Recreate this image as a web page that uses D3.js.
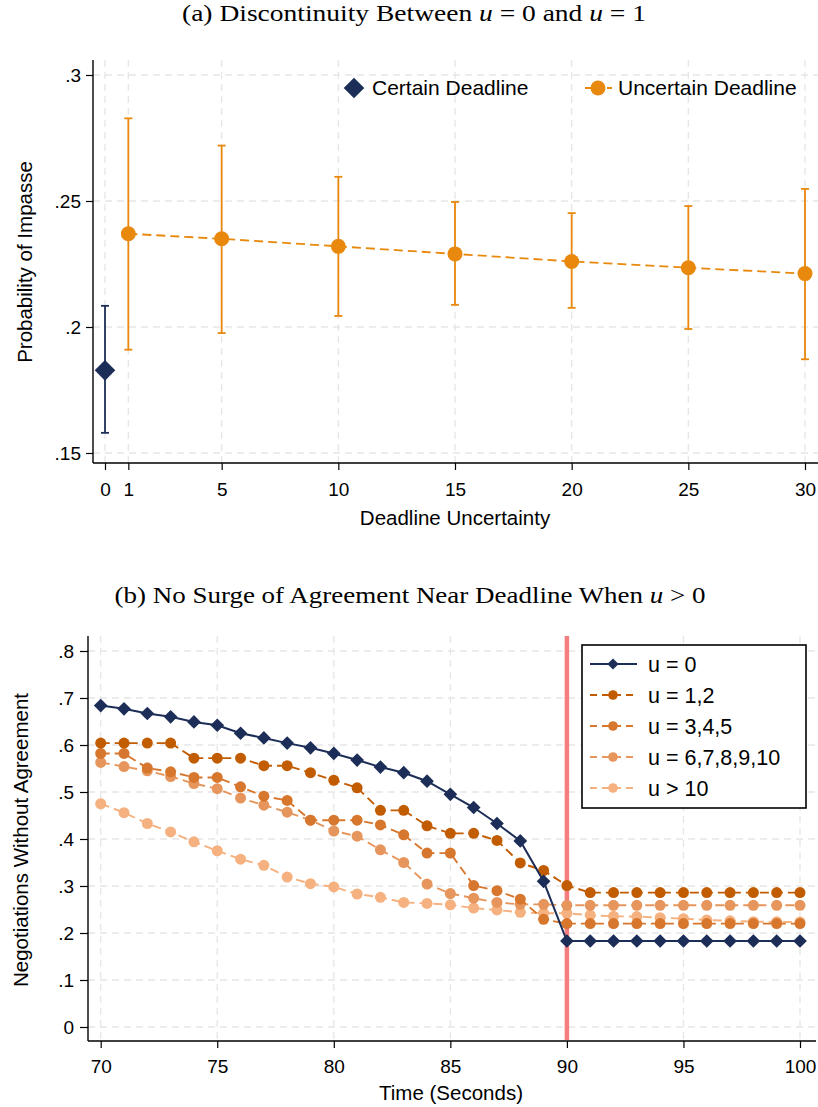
<!DOCTYPE html>
<html>
<head>
<meta charset="utf-8">
<script src="https://cdn.jsdelivr.net/npm/d3@7"></script>
<style>
  body { margin: 0; background: #fff; }
  text { font-family: "Liberation Sans", Arial, sans-serif; }
  .ttl { font-family: "Liberation Serif", "Times New Roman", serif; }
</style>
</head>
<body>
<div id="chart"></div>
<script>
// ---- panel (a) data
const uncertainU = [1, 5, 10, 15, 20, 25, 30];
const uncertainP = [0.237, 0.235, 0.232, 0.229, 0.226, 0.2235, 0.2212];
const uncertainLo = [0.191, 0.1976, 0.2044, 0.2088, 0.2076, 0.1992, 0.1872];
const uncertainHi = [0.2828, 0.272, 0.2596, 0.2496, 0.2452, 0.248, 0.2548];
const certainU = [0];
const certainP = [0.1828];
const certainLo = [0.158];
const certainHi = [0.2084];
const xTicksA = [0, 1, 5, 10, 15, 20, 25, 30];
const yTicksA = [0.15, 0.2, 0.25, 0.3];

// ---- panel (b) data
const seconds = d3.range(70, 101);
const seriesNames = ["u = 0", "u = 1,2", "u = 3,4,5", "u = 6,7,8,9,10", "u > 10"];
const u0 = [0.684, 0.677, 0.667, 0.660, 0.649, 0.642, 0.625, 0.615, 0.604, 0.594, 0.582, 0.568, 0.553, 0.541, 0.523, 0.495, 0.467, 0.433, 0.396, 0.310, 0.183,
  0.183, 0.183, 0.183, 0.183, 0.183, 0.183, 0.183, 0.183, 0.183, 0.183];
const u12 = [0.604, 0.604, 0.604, 0.604, 0.572, 0.572, 0.572, 0.556, 0.556, 0.541, 0.525, 0.509, 0.461, 0.461, 0.428, 0.412, 0.412, 0.397, 0.349, 0.333, 0.301,
  0.286, 0.286, 0.286, 0.286, 0.286, 0.286, 0.286, 0.286, 0.286, 0.286];
const u345 = [0.582, 0.582, 0.551, 0.543, 0.531, 0.531, 0.511, 0.491, 0.482, 0.440, 0.440, 0.440, 0.430, 0.409, 0.370, 0.370, 0.301, 0.290, 0.272, 0.229, 0.220,
  0.220, 0.220, 0.220, 0.220, 0.220, 0.220, 0.220, 0.220, 0.220, 0.220];
const u610 = [0.563, 0.554, 0.545, 0.533, 0.518, 0.507, 0.487, 0.472, 0.457, 0.440, 0.417, 0.406, 0.377, 0.350, 0.304, 0.284, 0.274, 0.265, 0.261, 0.261, 0.259,
  0.259, 0.259, 0.259, 0.259, 0.259, 0.259, 0.259, 0.259, 0.259, 0.259];
const u10p = [0.475, 0.456, 0.433, 0.415, 0.394, 0.375, 0.357, 0.344, 0.319, 0.305, 0.298, 0.283, 0.276, 0.265, 0.263, 0.260, 0.253, 0.249, 0.244, 0.242, 0.242,
  0.238, 0.2355, 0.235, 0.2326, 0.2305, 0.2277, 0.226, 0.224, 0.2237, 0.2232];
const seriesValues = [u0, u12, u345, u610, u10p];
const deadline = 90;
const xTicksB = [70, 75, 80, 85, 90, 95, 100];
const yTicksB = [0, 0.1, 0.2, 0.3, 0.4, 0.5, 0.6, 0.7, 0.8];

const navy = "#1c2d57";
const orange = "#e8880c";
const seriesColors = [navy, "#c25c00", "#d7772e", "#e6965c", "#f5b17f"];
const gridColor = "#e6e6e6";
const tickFont = "19px";
const titleFont = "20.5px";

const svg = d3.select("#chart").append("svg")
  .attr("width", 818)
  .attr("height", 1107);

function fmt(v) {
  return v === 0 ? "0" : d3.format(".2~f")(v).replace(/^0/, "");
}

function styleAxis(a) {
  a.select(".domain").remove();
  a.selectAll("text").style("font-size", tickFont).attr("fill", "#000")
    .style("font-family", "Liberation Sans, Arial, sans-serif");
  a.selectAll("line").attr("stroke", "#000").attr("stroke-width", 1.2);
}

// square diamonds like Stata's
const diamondBig = d3.symbol().type(d3.symbolDiamond2).size(270);
const diamondSmall = d3.symbol().type(d3.symbolDiamond2).size(120);
const diamondLegend = d3.symbol().type(d3.symbolDiamond2).size(80);

// ============ Panel (a)
const pa = { left: 93, right: 818, top: 60, bottom: 463 };
const xa = d3.scaleLinear().domain([0, 30]).range([105, 805]);
const ya = d3.scaleLinear().domain([0.15, 0.3]).range([453, 75]);

svg.append("text").attr("class", "ttl")
  .attr("x", 414).attr("y", 21)
  .attr("text-anchor", "middle")
  .attr("textLength", 464).attr("lengthAdjust", "spacingAndGlyphs")
  .style("font-size", "23.5px")
  .html('(a) Discontinuity Between <tspan font-style="italic">u</tspan> = 0 and <tspan font-style="italic">u</tspan> = 1');

const ga = svg.append("g");

// grid
ga.selectAll(".hg").data(yTicksA).enter().append("line")
  .attr("x1", pa.left).attr("x2", pa.right)
  .attr("y1", d => ya(d)).attr("y2", d => ya(d))
  .attr("stroke", gridColor).attr("stroke-width", 1.3).attr("stroke-dasharray", "7,5");
ga.selectAll(".vg").data(xTicksA).enter().append("line")
  .attr("x1", d => xa(d)).attr("x2", d => xa(d))
  .attr("y1", pa.top).attr("y2", pa.bottom)
  .attr("stroke", gridColor).attr("stroke-width", 1.3).attr("stroke-dasharray", "7,5");

// axes
const xAxisA = ga.append("g").attr("transform", "translate(0," + pa.bottom + ")")
  .call(d3.axisBottom(xa).tickValues(xTicksA).tickSize(7).tickPadding(13).tickFormat(d3.format("d")));
const yAxisA = ga.append("g").attr("transform", "translate(" + pa.left + ",0)")
  .call(d3.axisLeft(ya).tickValues(yTicksA).tickSize(7).tickPadding(5).tickFormat(fmt));
styleAxis(xAxisA);
styleAxis(yAxisA);
ga.append("line").attr("x1", pa.left).attr("x2", pa.right).attr("y1", pa.bottom).attr("y2", pa.bottom)
  .attr("stroke", "#000").attr("stroke-width", 1.4);
ga.append("line").attr("x1", pa.left).attr("x2", pa.left).attr("y1", pa.top).attr("y2", pa.bottom)
  .attr("stroke", "#000").attr("stroke-width", 1.4);

ga.append("text").attr("x", 455).attr("y", 525).attr("text-anchor", "middle")
  .style("font-size", titleFont).text("Deadline Uncertainty");
ga.append("text").attr("transform", "translate(32,262) rotate(-90)").attr("text-anchor", "middle")
  .style("font-size", titleFont).text("Probability of Impasse");

// error bars
function errorBars(g, us, lo, hi, color) {
  const d = us.map((u, i) => ({ u: u, lo: lo[i], hi: hi[i] }));
  g.selectAll(null).data(d).enter().append("line")
    .attr("x1", e => xa(e.u)).attr("x2", e => xa(e.u))
    .attr("y1", e => ya(e.lo)).attr("y2", e => ya(e.hi))
    .attr("stroke", color).attr("stroke-width", 1.8);
  ["lo", "hi"].forEach(k => {
    g.selectAll(null).data(d).enter().append("line")
      .attr("x1", e => xa(e.u) - 4).attr("x2", e => xa(e.u) + 4)
      .attr("y1", e => ya(e[k])).attr("y2", e => ya(e[k]))
      .attr("stroke", color).attr("stroke-width", 1.8);
  });
}
errorBars(ga, certainU, certainLo, certainHi, navy);
errorBars(ga, uncertainU, uncertainLo, uncertainHi, orange);

const lineA = d3.line().x(d => xa(d[0])).y(d => ya(d[1]));
ga.append("path")
  .datum(uncertainU.map((u, i) => [u, uncertainP[i]]))
  .attr("d", lineA).attr("fill", "none")
  .attr("stroke", orange).attr("stroke-width", 1.8).attr("stroke-dasharray", "9,5");

ga.selectAll(".upt").data(uncertainU).enter().append("circle")
  .attr("cx", d => xa(d)).attr("cy", (d, i) => ya(uncertainP[i])).attr("r", 7.5)
  .attr("fill", orange);

ga.selectAll(".cpt").data(certainU).enter().append("path")
  .attr("transform", (d, i) => "translate(" + xa(d) + "," + ya(certainP[i]) + ")")
  .attr("d", diamondBig).attr("fill", navy);

// legend (a)
const lga = ga.append("g");
lga.append("path").attr("transform", "translate(354,88)").attr("d", diamondBig).attr("fill", navy);
lga.append("text").attr("x", 372).attr("y", 95).style("font-size", "21px").text("Certain Deadline");
lga.append("line").attr("x1", 585).attr("x2", 612).attr("y1", 88).attr("y2", 88)
  .attr("stroke", orange).attr("stroke-width", 1.8).attr("stroke-dasharray", "7,4");
lga.append("circle").attr("cx", 598).attr("cy", 88).attr("r", 7.5).attr("fill", orange);
lga.append("text").attr("x", 618).attr("y", 95).style("font-size", "21px").text("Uncertain Deadline");

// ============ Panel (b)
const pb = { left: 88, right: 816, top: 636, bottom: 1041 };
const xb = d3.scaleLinear().domain([70, 100]).range([100.7, 800]);
const yb = d3.scaleLinear().domain([0, 0.8]).range([1027, 651]);

svg.append("text").attr("class", "ttl")
  .attr("x", 410).attr("y", 603)
  .attr("text-anchor", "middle")
  .attr("textLength", 591).attr("lengthAdjust", "spacingAndGlyphs")
  .style("font-size", "23.5px")
  .html('(b) No Surge of Agreement Near Deadline When <tspan font-style="italic">u</tspan> &gt; 0');

const gb = svg.append("g");

gb.selectAll(".hg").data(yTicksB).enter().append("line")
  .attr("x1", pb.left).attr("x2", pb.right)
  .attr("y1", d => yb(d)).attr("y2", d => yb(d))
  .attr("stroke", gridColor).attr("stroke-width", 1.3).attr("stroke-dasharray", "7,5");
gb.selectAll(".vg").data(xTicksB).enter().append("line")
  .attr("x1", d => xb(d)).attr("x2", d => xb(d))
  .attr("y1", pb.top).attr("y2", pb.bottom)
  .attr("stroke", gridColor).attr("stroke-width", 1.3).attr("stroke-dasharray", "7,5");

const xAxisB = gb.append("g").attr("transform", "translate(0," + pb.bottom + ")")
  .call(d3.axisBottom(xb).tickValues(xTicksB).tickSize(7).tickPadding(12).tickFormat(d3.format("d")));
const yAxisB = gb.append("g").attr("transform", "translate(" + pb.left + ",0)")
  .call(d3.axisLeft(yb).tickValues(yTicksB).tickSize(8).tickPadding(6).tickFormat(fmt));
styleAxis(xAxisB);
styleAxis(yAxisB);
gb.append("line").attr("x1", pb.left).attr("x2", pb.right).attr("y1", pb.bottom).attr("y2", pb.bottom)
  .attr("stroke", "#000").attr("stroke-width", 1.4);
gb.append("line").attr("x1", pb.left).attr("x2", pb.left).attr("y1", pb.top).attr("y2", pb.bottom)
  .attr("stroke", "#000").attr("stroke-width", 1.4);

gb.append("text").attr("x", 451).attr("y", 1100).attr("text-anchor", "middle")
  .style("font-size", titleFont).text("Time (Seconds)");
gb.append("text").attr("transform", "translate(28,840) rotate(-90)").attr("text-anchor", "middle")
  .style("font-size", titleFont).text("Negotiations Without Agreement");

// deadline
gb.append("line").attr("x1", xb(deadline)).attr("x2", xb(deadline))
  .attr("y1", pb.top).attr("y2", pb.bottom - 1)
  .attr("stroke", "#f47d7d").attr("stroke-width", 4.5);

const lineB = d3.line().x(d => xb(d[0])).y(d => yb(d[1]));

// draw light series first so dark ones sit on top
for (let s = seriesValues.length - 1; s >= 0; s--) {
  const pts = seconds.map((t, i) => [t, seriesValues[s][i]]);
  gb.append("path").datum(pts).attr("d", lineB).attr("fill", "none")
    .attr("stroke", seriesColors[s]).attr("stroke-width", s === 0 ? 2 : 1.9)
    .attr("stroke-dasharray", s === 0 ? null : "9,5");
  if (s === 0) {
    gb.selectAll(null).data(pts).enter().append("path")
      .attr("transform", d => "translate(" + xb(d[0]) + "," + yb(d[1]) + ")")
      .attr("d", diamondSmall).attr("fill", seriesColors[s]);
  } else {
    gb.selectAll(null).data(pts).enter().append("circle")
      .attr("cx", d => xb(d[0])).attr("cy", d => yb(d[1])).attr("r", 5.5)
      .attr("fill", seriesColors[s]);
  }
}

// legend (b)
const lgb = gb.append("g");
lgb.append("rect").attr("x", 582).attr("y", 645).attr("width", 224).attr("height", 163)
  .attr("fill", "#fff").attr("stroke", "#000").attr("stroke-width", 1.6);
seriesNames.forEach((name, i) => {
  const yy = 664 + i * 31;
  lgb.append("line").attr("x1", 590).attr("x2", 637).attr("y1", yy).attr("y2", yy)
    .attr("stroke", seriesColors[i]).attr("stroke-width", i === 0 ? 2 : 1.9)
    .attr("stroke-dasharray", i === 0 ? null : "7,5");
  if (i === 0) {
    lgb.append("path").attr("transform", "translate(613," + yy + ")")
      .attr("d", diamondLegend).attr("fill", seriesColors[i]);
  } else {
    lgb.append("circle").attr("cx", 613).attr("cy", yy).attr("r", 4.8).attr("fill", seriesColors[i]);
  }
  lgb.append("text").attr("x", 648).attr("y", yy + 7.5).style("font-size", "21.5px").text(name);
});
</script>
</body>
</html>
